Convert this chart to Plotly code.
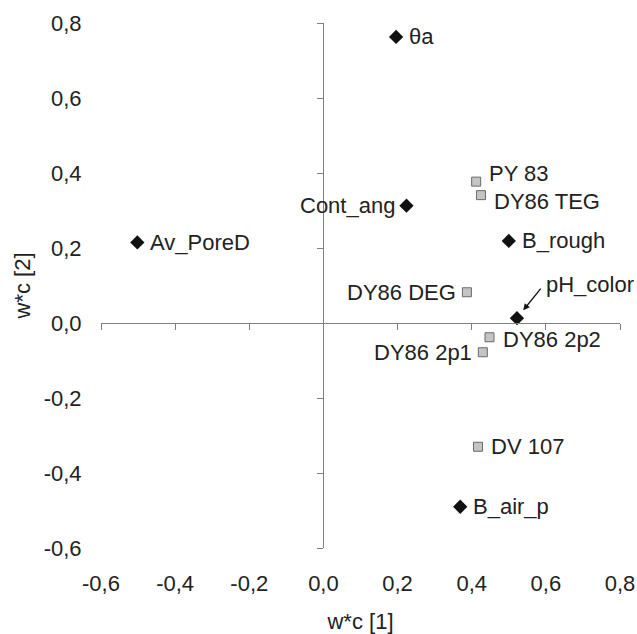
import plotly.graph_objects as go

# ---- data ----
diamond_names = ["θa", "Cont_ang", "B_rough", "pH_color", "Av_PoreD", "B_air_p"]
diamond_x = [0.196, 0.224, 0.500, 0.522, -0.502, 0.369]
diamond_y = [0.763, 0.313, 0.219, 0.013, 0.215, -0.490]

square_names = ["PY 83", "DY86 TEG", "DY86 DEG", "DY86 2p2", "DY86 2p1", "DV 107"]
square_x = [0.412, 0.425, 0.387, 0.448, 0.430, 0.417]
square_y = [0.377, 0.341, 0.082, -0.038, -0.078, -0.330]

tick_vals = [-0.6, -0.4, -0.2, 0.0, 0.2, 0.4, 0.6, 0.8]
tick_text = ["-0,6", "-0,4", "-0,2", "0,0", "0,2", "0,4", "0,6", "0,8"]

# ---- label placement (style) ----
diamond_side = ["right", "left", "right", "arrow", "right", "right"]
diamond_dy = [0, 0, 0, 0, 0, 0]
square_side = ["right", "right", "left", "right", "left", "right"]
square_dy = [8, -6, 0, -2, 0, 0]

FONT = "Liberation Sans, Arial, sans-serif"
TXT = "#222222"
AX = "#808080"
FS = 22

fig = go.Figure()
fig.add_trace(go.Scatter(
    x=square_x, y=square_y, mode="markers",
    marker=dict(symbol="square", size=9, color="#c4c4c4",
                line=dict(color="#6a6a6a", width=1)),
    showlegend=False, hoverinfo="skip"))
fig.add_trace(go.Scatter(
    x=diamond_x, y=diamond_y, mode="markers",
    marker=dict(symbol="diamond", size=11, color="#111111",
                line=dict(width=0)),
    showlegend=False, hoverinfo="skip"))
# empty trace so the zero-crossing axes are drawn
fig.add_trace(go.Scatter(x=[None], y=[None], xaxis="x2", yaxis="y2",
                         mode="markers", showlegend=False, hoverinfo="skip"))

annotations = []
def add_label(name, x, y, side, dy):
    if side == "arrow":
        annotations.append(dict(
            x=x, y=y, xref="x", yref="y", text="", showarrow=True,
            ax=25, ay=-31,
            arrowhead=2, arrowsize=1, arrowwidth=1.3, arrowcolor="#111111",
            standoff=10))
        annotations.append(dict(
            x=x, y=y, xref="x", yref="y", text=name, showarrow=False,
            xanchor="left", yanchor="middle", xshift=27, yshift=34,
            font=dict(family=FONT, size=FS, color=TXT)))
        return
    annotations.append(dict(
        x=x, y=y, xref="x", yref="y", text=name, showarrow=False,
        xanchor="left" if side == "right" else "right",
        xshift=11 if side == "right" else -9, yshift=dy,
        font=dict(family=FONT, size=FS, color=TXT)))

for n, x, y, s, d in zip(diamond_names, diamond_x, diamond_y, diamond_side, diamond_dy):
    add_label(n, x, y, s, d)
for n, x, y, s, d in zip(square_names, square_x, square_y, square_side, square_dy):
    add_label(n, x, y, s, d)

pos_zero_x = (0 - tick_vals[0]) / (tick_vals[-1] - tick_vals[0])
pos_zero_y = pos_zero_x

fig.update_layout(
    width=637, height=634,
    margin=dict(l=101, r=17, t=23, b=86, autoexpand=False),
    paper_bgcolor="white", plot_bgcolor="white",
    font=dict(family=FONT, size=FS, color=TXT),
    showlegend=False,
    annotations=annotations,
    xaxis=dict(range=[-0.6, 0.8], tickvals=tick_vals, ticktext=tick_text,
               showgrid=False, zeroline=False, showline=False, automargin=False,
               ticks="outside", ticklen=16, tickcolor="rgba(0,0,0,0)",
               tickfont=dict(family=FONT, size=FS, color=TXT),
               title=dict(text="w*c [1]", standoff=28,
                          font=dict(family=FONT, size=FS, color=TXT))),
    yaxis=dict(range=[-0.6, 0.8], tickvals=tick_vals, ticktext=tick_text,
               showgrid=False, zeroline=False, showline=False, automargin=False,
               ticks="outside", ticklen=14, tickcolor="rgba(0,0,0,0)",
               tickfont=dict(family=FONT, size=FS, color=TXT),
               title=dict(text="w*c [2]", standoff=6,
                          font=dict(family=FONT, size=FS, color=TXT))),
    xaxis2=dict(overlaying="x", anchor="free", position=pos_zero_y,
                range=[-0.6, 0.8], tickvals=tick_vals, showticklabels=False,
                showgrid=False, zeroline=False, showline=True, automargin=False,
                linecolor=AX, linewidth=1, ticks="outside", ticklen=6,
                tickcolor=AX, tickwidth=1),
    yaxis2=dict(overlaying="y", anchor="free", position=pos_zero_x,
                range=[-0.6, 0.8], tickvals=tick_vals, showticklabels=False,
                showgrid=False, zeroline=False, showline=True, automargin=False,
                linecolor=AX, linewidth=1, ticks="outside", ticklen=6,
                tickcolor=AX, tickwidth=1),
)

fig.write_html("out.html", config={"displayModeBar": False},
               post_script="document.body.style.margin='0';")
